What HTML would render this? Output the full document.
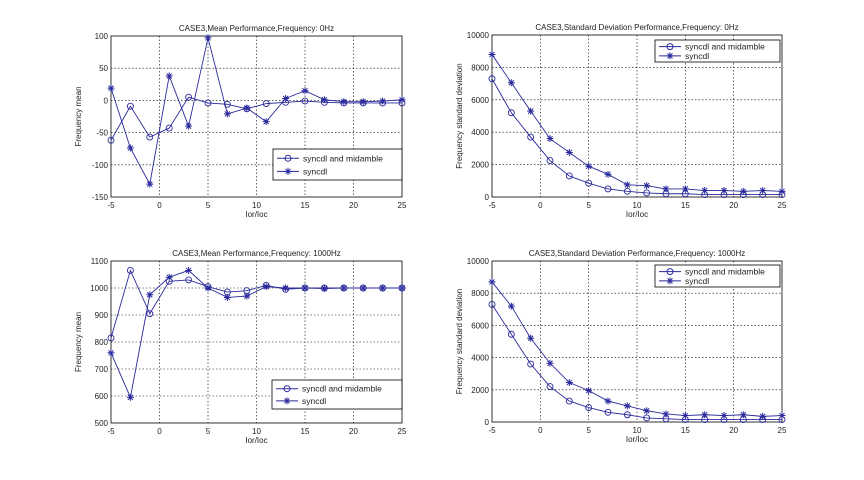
<!DOCTYPE html>
<html><head><meta charset="utf-8"><style>
body{margin:0;background:#fff;width:864px;height:475px;overflow:hidden}
svg text{font-family:"Liberation Sans",sans-serif;fill:#222}
</style></head><body>
<svg id="c" width="864" height="475"></svg>
<script>
const xs=[-5,-3,-1,1,3,5,7,9,11,13,15,17,19,21,23,25];
const tlMid=[-62,-9,-57,-43,5,-4,-6,-13,-5,-3,-1,-3,-4,-4,-4,-4];
const tlSyn=[19,-74,-130,38,-40,97,-21,-12,-33,3,15,1,-2,-2,-1,1];
const blMid=[815,1065,905,1025,1030,1005,985,990,1010,995,1000,1000,1000,1000,1000,1000];
const blSyn=[760,595,975,1040,1065,1000,965,970,1005,1000,1000,998,1000,1000,1000,1000];
const trMid=[7300,5200,3700,2250,1300,850,500,350,250,200,200,150,150,150,150,150];
const trSyn=[8800,7050,5300,3600,2750,1900,1400,750,700,500,500,400,400,350,400,350];
const brMid=[7300,5450,3600,2200,1300,900,600,450,250,200,150,150,150,150,150,150];
const brSyn=[8700,7200,5200,3650,2450,1950,1300,1000,700,500,400,450,400,450,350,400];
const xTicks=[-5,0,5,10,15,20,25];
const tlTicks=[-150,-100,-50,0,50,100];
const blTicks=[500,600,700,800,900,1000,1100];
const sdTicks=[0,2000,4000,6000,8000,10000];
const NS='http://www.w3.org/2000/svg';
const svg=document.getElementById('c');
function mk(t,a,p){const e=document.createElementNS(NS,t);for(const k in a)e.setAttribute(k,a[k]);(p||svg).appendChild(e);return e;}
const COL='#2a2a9c';
function starPath(x,y){const r=3.5,d=2.5;return `M${x-r},${y}H${x+r}M${x},${y-r}V${y+r}M${x-d},${y-d}L${x+d},${y+d}M${x-d},${y+d}L${x+d},${y-d}`;}
function plot(id,L,T,R,B,yt,title,ylab,mid,syn,leg){
  const g=mk('g',{});
  
  
  const y0=yt[0],y1=yt[yt.length-1];
  const sx=v=>L+(v+5)/30*(R-L), sy=v=>B-(v-y0)/(y1-y0)*(B-T);
  mk('rect',{x:L,y:T,width:R-L,height:B-T,fill:'#fff',stroke:'#000','stroke-width':0.8},g);
  xTicks.forEach(v=>{const x=sx(v);
    if(v>-5&&v<25){const gl=mk('line',{x1:x,x2:x,y1:T,y2:B,stroke:'#000','stroke-width':0.6,'stroke-dasharray':'1.5,2'},g);}
    const t=mk('text',{x:x,y:B+11,'font-size':8,'text-anchor':'middle'},g);t.textContent=v;
    });
  yt.forEach(v=>{const y=sy(v);
    if(v>y0&&v<y1){const gl=mk('line',{x1:L,x2:R,y1:y,y2:y,stroke:'#000','stroke-width':0.6,'stroke-dasharray':'1.5,2'},g);}
    const t=mk('text',{x:L-3,y:y+3,'font-size':8,'text-anchor':'end'},g);t.textContent=v;
    });
  const tt=mk('text',{x:(L+R)/2,y:T-5,'font-size':8,'text-anchor':'middle'},g);tt.textContent=title;
  
  const xl=mk('text',{x:(L+R)/2,y:B+20,'font-size':8,'text-anchor':'middle'},g);xl.textContent='Ior/Ioc';
  
  const cy=(T+B)/2;
  const yl=mk('text',{x:L-30,y:cy,'font-size':8,'text-anchor':'middle',transform:`rotate(-90 ${L-30} ${cy})`},g);yl.textContent=ylab;
  
  const p1=mk('polyline',{points:xs.map((x,i)=>sx(x)+','+sy(mid[i])).join(' '),fill:'none',stroke:COL,'stroke-width':0.9},g);
  
  const p2=mk('polyline',{points:xs.map((x,i)=>sx(x)+','+sy(syn[i])).join(' '),fill:'none',stroke:COL,'stroke-width':0.9},g);
  
  xs.forEach((x,i)=>{
    const c=mk('circle',{cx:sx(x),cy:sy(mid[i]),r:3,fill:'none',stroke:COL,'stroke-width':0.9},g);
    
    const s=mk('path',{d:starPath(sx(x),sy(syn[i])),stroke:COL,'stroke-width':1},g);
    
  });
  const [lx,ly,lw,lh]=leg;
  const lg=mk('g',{},g);
  
  mk('rect',{x:lx,y:ly,width:lw,height:lh,fill:'#fff',stroke:'#000','stroke-width':0.8},lg);
  const r1=ly+lh*0.3,r2=ly+lh*0.72;
  mk('line',{x1:lx+4,x2:lx+26,y1:r1,y2:r1,stroke:COL},lg);
  mk('circle',{cx:lx+15,cy:r1,r:3,fill:'none',stroke:COL},lg);
  const a=mk('text',{x:lx+30,y:r1+3,'font-size':8.5},lg);a.textContent='syncdl and midamble';
  
  mk('line',{x1:lx+4,x2:lx+26,y1:r2,y2:r2,stroke:COL},lg);
  mk('path',{d:starPath(lx+15,r2),stroke:COL,'stroke-width':1},lg);
  const b=mk('text',{x:lx+30,y:r2+3,'font-size':8.5},lg);b.textContent='syncdl';
  
}
plot('mean-0hz-chart',111,36,402,197,tlTicks,'CASE3,Mean Performance,Frequency: 0Hz','Frequency mean',tlMid,tlSyn,[273,149,129,31]);
plot('std-0hz-chart',492,35,782,197,sdTicks,'CASE3,Standard Deviation Performance,Frequency: 0Hz','Frequency standard deviation',trMid,trSyn,[655,40,125,22]);
plot('mean-1000hz-chart',111,261,402,423,blTicks,'CASE3,Mean Performance,Frequency: 1000Hz','Frequency mean',blMid,blSyn,[272,380,130,29]);
plot('std-1000hz-chart',492,261,782,422,sdTicks,'CASE3,Standard Deviation Performance,Frequency: 1000Hz','Frequency standard deviation',brMid,brSyn,[655,265,125,22]);
</script>
</body></html>
